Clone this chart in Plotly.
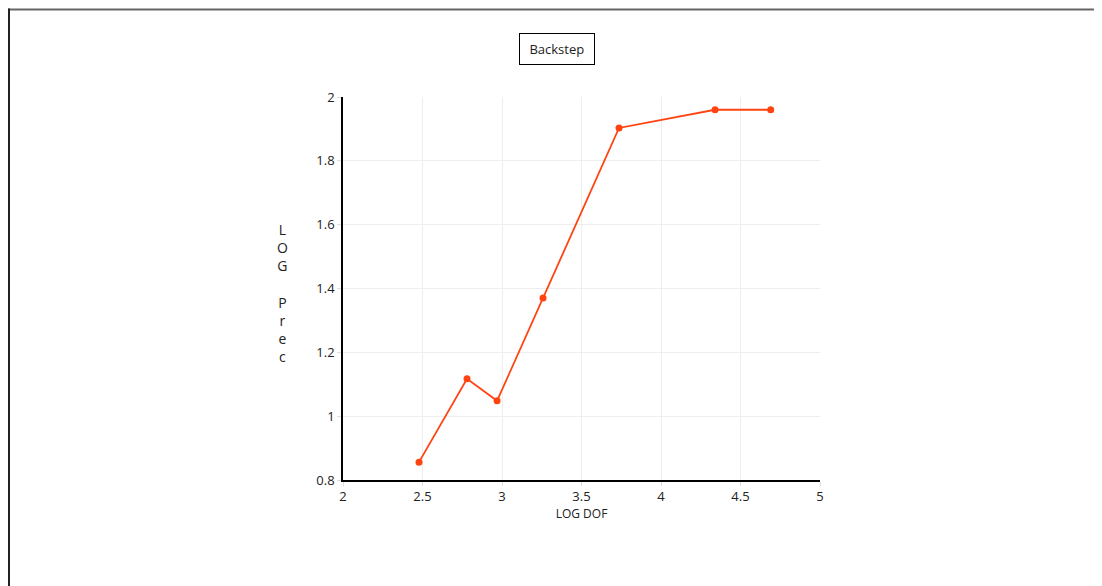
import plotly.graph_objects as go

log_dof = [2.478, 2.78, 2.969, 3.258, 3.736, 4.34, 4.69]
log_prec = [0.856, 1.117, 1.048, 1.370, 1.903, 1.960, 1.960]
x_ticks = [2, 2.5, 3, 3.5, 4, 4.5, 5]
y_ticks = [0.8, 1, 1.2, 1.4, 1.6, 1.8, 2]

# the page body adds an 8px offset; positions below are reference pixels
OFF = 8
W, H = 1102, 586
L, R, T, B = 343 - OFF, 820 - OFF, 97 - OFF, 480 - OFF

def px(x):
    return (x - OFF - L) / (R - L)

def py(y):
    return (B - (y - OFF)) / (B - T)

fig = go.Figure(go.Scatter(
    x=log_dof, y=log_prec, mode="lines+markers",
    line=dict(color="#ff4412", width=1.8),
    marker=dict(color="#ff4412", size=7),
    showlegend=False,
))

font = "Open Sans, DejaVu Sans, sans-serif"
fig.update_layout(
    width=W, height=H,
    margin=dict(l=L, r=W - R, t=T, b=H - B, pad=0),
    paper_bgcolor="white", plot_bgcolor="white",
    font=dict(family=font, size=13, color="#222"),
    xaxis=dict(range=[2, 5], tickvals=x_ticks, ticktext=[f"{v:g}" for v in x_ticks],
               showgrid=True, gridcolor="#eeeeee", gridwidth=1,
               showline=True, linecolor="black", linewidth=1.5,
               ticks="outside", ticklen=4, tickcolor="#dddddd",
               zeroline=False, fixedrange=True,
               title=dict(text="LOG DOF", font=dict(size=12), standoff=5)),
    yaxis=dict(range=[0.8, 2], tickvals=y_ticks, ticktext=[f"{v:g}" for v in y_ticks],
               showgrid=True, gridcolor="#eeeeee", gridwidth=1,
               showline=True, linecolor="black", linewidth=1.5,
               ticks="outside", ticklen=4, tickcolor="#dddddd",
               zeroline=False, fixedrange=True),
    shapes=[
        dict(type="line", xref="paper", yref="paper",
             x0=px(8), x1=px(W + OFF), y0=py(9.5), y1=py(9.5),
             line=dict(color="#666666", width=2)),
        dict(type="line", xref="paper", yref="paper",
             x0=px(9), x1=px(9), y0=py(8.5), y1=py(H + OFF),
             line=dict(color="#222222", width=2)),
    ],
    annotations=[
        dict(text="&nbsp;Backstep&nbsp;", xref="paper", yref="paper",
             x=px(557), y=py(49), xanchor="center", yanchor="middle",
             showarrow=False, font=dict(size=13, color="#222"),
             bordercolor="black", borderwidth=1, borderpad=6, bgcolor="white"),
        dict(text="L<br>O<br>G<br> <br>P<br>r<br>e<br>c", xref="paper", yref="paper",
             x=px(282), y=py(293), xanchor="center", yanchor="middle",
             showarrow=False, font=dict(size=14, color="#222"), align="center"),
    ],
)

fig.write_html("out.html")
